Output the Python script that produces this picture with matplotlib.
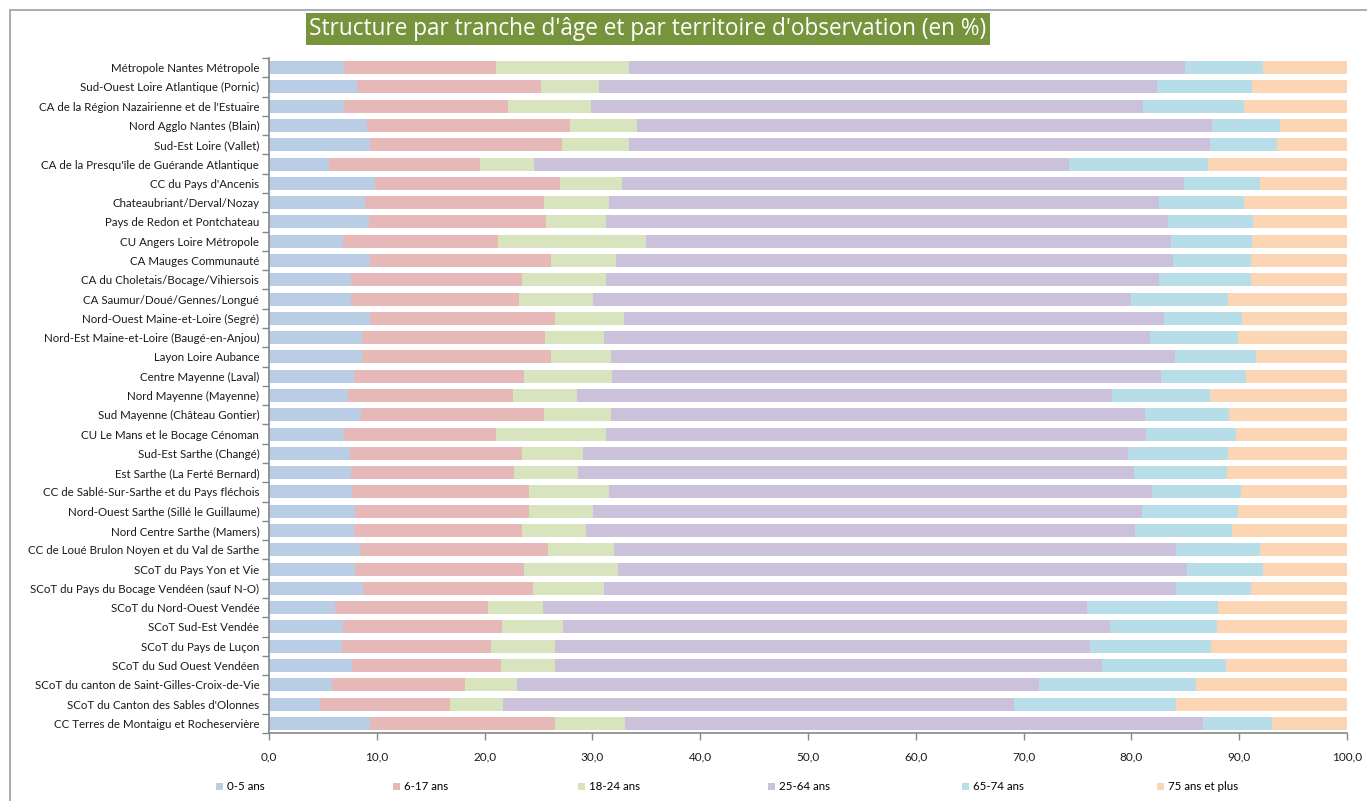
import matplotlib
matplotlib.use("Agg")
import matplotlib.pyplot as plt
import numpy as np
from matplotlib.ticker import FuncFormatter, FixedLocator
from matplotlib.patches import Rectangle

territoires = [
    "Métropole Nantes Métropole",
    "Sud-Ouest Loire Atlantique (Pornic)",
    "CA de la Région Nazairienne et de l'Estuaire",
    "Nord Agglo Nantes (Blain)",
    "Sud-Est Loire (Vallet)",
    "CA de la Presqu'île de Guérande Atlantique",
    "CC du Pays d'Ancenis",
    "Chateaubriant/Derval/Nozay",
    "Pays de Redon et Pontchateau",
    "CU Angers Loire Métropole",
    "CA Mauges Communauté",
    "CA du Choletais/Bocage/Vihiersois",
    "CA Saumur/Doué/Gennes/Longué",
    "Nord-Ouest Maine-et-Loire (Segré)",
    "Nord-Est Maine-et-Loire (Baugé-en-Anjou)",
    "Layon Loire Aubance",
    "Centre Mayenne (Laval)",
    "Nord Mayenne (Mayenne)",
    "Sud Mayenne (Château Gontier)",
    "CU Le Mans et le Bocage Cénoman",
    "Sud-Est Sarthe (Changé)",
    "Est Sarthe (La Ferté Bernard)",
    "CC de Sablé-Sur-Sarthe et du Pays fléchois",
    "Nord-Ouest Sarthe (Sillé le Guillaume)",
    "Nord Centre Sarthe (Mamers)",
    "CC de Loué Brulon Noyen et du Val de Sarthe",
    "SCoT du Pays Yon et Vie",
    "SCoT du Pays du Bocage Vendéen (sauf N-O)",
    "SCoT du Nord-Ouest Vendée",
    "SCoT Sud-Est Vendée",
    "SCoT du Pays de Luçon",
    "SCoT du Sud Ouest Vendéen",
    "SCoT du canton de Saint-Gilles-Croix-de-Vie",
    "SCoT du Canton des Sables d'Olonnes",
    "CC Terres de Montaigu et Rocheservière",
]

age_0_5 = [7.0, 8.2, 7.0, 9.1, 9.4, 5.6, 9.8, 8.9, 9.3, 6.9, 9.4, 7.6,
           7.6, 9.4, 8.6, 8.6, 7.9, 7.3, 8.5, 7.0, 7.5, 7.6, 7.7, 8.0,
           7.9, 8.4, 8.0, 8.7, 6.1, 6.9, 6.8, 7.7, 5.8, 4.7, 9.4]
age_6_17 = [14.1, 17.0, 15.2, 18.8, 17.8, 14.0, 17.2, 16.6, 16.4, 14.3, 16.8, 15.9,
            15.6, 17.1, 17.0, 17.6, 15.8, 15.3, 17.0, 14.1, 16.0, 15.1, 16.4, 16.1,
            15.6, 17.5, 15.7, 15.8, 14.2, 14.7, 13.8, 13.8, 12.4, 12.1, 17.1]
age_18_24 = [12.3, 5.4, 7.7, 6.2, 6.2, 5.0, 5.7, 6.0, 5.6, 13.8, 6.0, 7.8,
             6.9, 6.4, 5.5, 5.5, 8.1, 6.0, 6.2, 10.2, 5.6, 6.0, 7.4, 6.0,
             5.9, 6.1, 8.7, 6.6, 5.1, 5.7, 5.9, 5.0, 4.8, 4.9, 6.5]
age_25_64 = [51.6, 51.8, 51.2, 53.4, 53.9, 49.6, 52.2, 51.1, 52.1, 48.7, 51.7, 51.3,
             49.9, 50.1, 50.6, 52.3, 50.9, 49.6, 49.6, 50.1, 50.6, 51.5, 50.4, 50.9,
             50.9, 52.1, 52.8, 53.0, 50.5, 50.7, 49.7, 50.8, 48.4, 47.4, 53.6]
age_65_74 = [7.2, 8.8, 9.3, 6.3, 6.2, 12.9, 7.0, 7.8, 7.9, 7.5, 7.2, 8.5,
             9.0, 7.3, 8.2, 7.6, 7.9, 9.1, 7.8, 8.3, 9.3, 8.7, 8.3, 8.9,
             9.0, 7.8, 7.0, 7.0, 12.1, 9.9, 11.2, 11.5, 14.6, 15.0, 6.4]
age_75_plus = [7.8, 8.8, 9.6, 6.2, 6.5, 12.9, 8.1, 9.6, 8.7, 8.8, 8.9, 8.9,
               11.0, 9.7, 10.1, 8.4, 9.4, 12.7, 10.9, 10.3, 11.0, 11.1, 9.8, 10.1,
               10.7, 8.1, 7.8, 8.9, 12.0, 12.1, 12.6, 11.2, 14.0, 15.9, 7.0]

tranches = ["0-5 ans", "6-17 ans", "18-24 ans", "25-64 ans", "65-74 ans", "75 ans et plus"]
couleurs = ["#b9cde5", "#e6b9b8", "#d7e4bd", "#ccc1da", "#b7dee8", "#fcd5b5"]
titre = "Structure par tranche d'âge et par territoire d'observation (en %)"

series = [age_0_5, age_6_17, age_18_24, age_25_64, age_65_74, age_75_plus]

W, H = 1367, 801
fig = plt.figure(figsize=(W / 100, H / 100), dpi=100)
fig.patch.set_facecolor("white")

ax = fig.add_axes([269 / W, 1 - 733 / H, (1347 - 269) / W, (733 - 58) / H])

y = np.arange(len(territoires))
gauche = np.zeros(len(territoires))
conteneurs = []
for vals, nom, col in zip(series, tranches, couleurs):
    vals = np.asarray(vals, dtype=float)
    c = ax.barh(y, vals, left=gauche, height=0.67, color=col, edgecolor="none", label=nom)
    conteneurs.append(c)
    gauche = gauche + vals

ax.set_xlim(0, 100)
ax.set_ylim(len(territoires) - 0.5, -0.5)

gris = "#868686"
for s in ("top", "right"):
    ax.spines[s].set_visible(False)
for s in ("left", "bottom"):
    ax.spines[s].set_color(gris)
    ax.spines[s].set_linewidth(1.2)

ax.set_xticks(np.arange(0, 101, 10))
ax.xaxis.set_major_formatter(FuncFormatter(lambda v, p: f"{v:.1f}".replace(".", ",")))
ax.tick_params(axis="x", length=5, width=1, color=gris, direction="out", pad=8,
               labelsize=8.5, labelcolor="#1a1a1a")
for lab in ax.get_xticklabels():
    lab.set_fontfamily("Lato")

ax.set_yticks(y)
ax.set_yticklabels(territoires, fontfamily="Lato", fontsize=8.3, color="#1a1a1a")
ax.yaxis.set_minor_locator(FixedLocator(np.arange(-0.5, len(territoires), 1.0)))
ax.tick_params(axis="y", which="major", length=0, pad=7)
ax.tick_params(axis="y", which="minor", length=5, width=1, color=gris, direction="out")

# title banner
fig.text(648 / W, 1 - 29 / H, titre, ha="center", va="center", color="white",
         fontsize=16.3, fontfamily="Open Sans",
         bbox=dict(boxstyle="square,pad=0.16", fc="#77933c", ec="none"))

# chart-area frame
fig.add_artist(Rectangle((10 / W, -0.1), 1.2, (1 - 10 / H) + 0.1, transform=fig.transFigure,
                         fill=False, ec="#a6a6a6", lw=1.3))

# legend entries spread along the bottom
legende_x = [216, 393, 578, 768, 962, 1157]
for c, nom, x in zip(conteneurs, tranches, legende_x):
    fig.legend([c], [nom], loc="center left", bbox_to_anchor=(x / W, 1 - 787 / H),
               frameon=False, borderpad=0, borderaxespad=0, handlelength=0.6,
               handleheight=0.6, handletextpad=0.35,
               prop={"family": "Lato", "size": 8.3})

fig.savefig("out.png", dpi=100, facecolor="white")
